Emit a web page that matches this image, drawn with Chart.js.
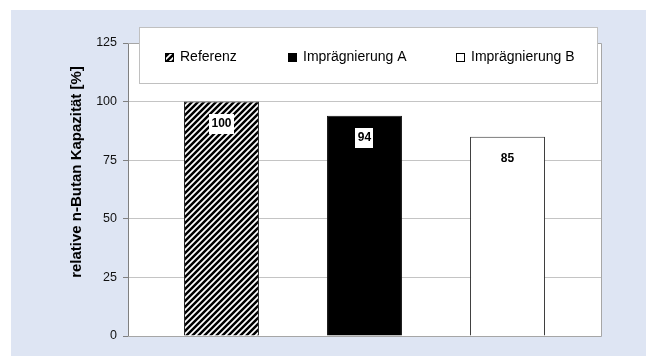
<!DOCTYPE html>
<html>
<head>
<meta charset="utf-8">
<script src="https://cdn.jsdelivr.net/npm/chart.js@4/dist/chart.umd.min.js"></script>
<style>
  html, body { margin: 0; padding: 0; background: #fff; }
  #wrap { width: 646px; height: 356px; position: relative; }
</style>
</head>
<body>
<div id="wrap"><canvas id="chart" width="646" height="356"></canvas></div>
<script>
// chart data
const categories = [''];
const seriesNames = ['Referenz', 'Imprägnierung A', 'Imprägnierung B'];
const seriesValues = [100, 94, 85];
const yTicks = [0, 25, 50, 75, 100, 125];
const yTitle = 'relative n-Butan Kapazität [%]';

const FONT = '"Liberation Sans", Arial, sans-serif';

// diagonal hatch for the reference bar
function makeHatch() {
    const s = 6;
    const c = document.createElement('canvas');
    c.width = s;
    c.height = s;
    const g = c.getContext('2d');
    g.fillStyle = '#fff';
    g.fillRect(0, 0, s, s);
    g.strokeStyle = '#000';
    g.lineWidth = 2.5;
    g.beginPath();
    g.moveTo(-1, s + 1); g.lineTo(s + 1, -1);
    g.moveTo(-1, 1); g.lineTo(1, -1);
    g.moveTo(s - 1, s + 1); g.lineTo(s + 1, s - 1);
    g.stroke();
    return g.createPattern(c, 'repeat');
}

const ctx = document.getElementById('chart').getContext('2d');
const hatch = makeHatch();
const fills = [hatch, '#000', '#fff'];
const borders = ['#222', '#111', '#333'];

const datasets = seriesNames.map(function(name, i) {
    return {
        label: name,
        data: [seriesValues[i]],
        backgroundColor: fills[i],
        borderColor: borders[i],
        borderWidth: 1,
        categoryPercentage: 0.907,
        barPercentage: 0.524
    };
});

// backgrounds behind the plot
const backgroundPlugin = {
    id: 'bg',
    beforeDraw: function(chart) {
        const c = chart.ctx;
        const a = chart.chartArea;
        c.save();
        c.fillStyle = '#fff';
        c.fillRect(0, 0, chart.width, chart.height);
        c.fillStyle = '#dee5f3';
        c.fillRect(11, 10, chart.width - 11, chart.height - 10);
        c.fillStyle = '#fff';
        c.fillRect(a.left, a.top, a.right - a.left, a.bottom - a.top);
        c.restore();
    }
};

// value labels inside the bars
const valueLabelPlugin = {
    id: 'valueLabels',
    afterDatasetsDraw: function(chart) {
        const c = chart.ctx;
        c.save();
        c.font = 'bold 12px ' + FONT;
        c.textAlign = 'center';
        c.textBaseline = 'middle';
        chart.data.datasets.forEach(function(ds, i) {
            const bar = chart.getDatasetMeta(i).data[0];
            const text = String(ds.data[0]);
            const y = bar.y + 22;
            const w = c.measureText(text).width + 5;
            c.fillStyle = '#fff';
            c.fillRect(Math.round(bar.x - w / 2), Math.round(y - 10), Math.round(w), 20);
            c.fillStyle = '#000';
            c.fillText(text, bar.x, y);
        });
        c.restore();
    }
};

// plot border, legend box and axis title
const overlayPlugin = {
    id: 'overlay',
    afterDraw: function(chart) {
        const c = chart.ctx;
        const a = chart.chartArea;
        c.save();
        c.strokeStyle = '#a6a6a6';
        c.lineWidth = 1;
        c.beginPath();
        c.moveTo(a.left, a.top + 0.5);
        c.lineTo(a.right + 0.5, a.top + 0.5);
        c.lineTo(a.right + 0.5, a.bottom + 0.5);
        c.lineTo(a.left, a.bottom + 0.5);
        c.stroke();

        // legend
        const lx = 139, ly = 27, lw = 458, lh = 56;
        c.fillStyle = '#fff';
        c.fillRect(lx, ly, lw, lh);
        c.strokeStyle = '#c0c0c0';
        c.strokeRect(lx + 0.5, ly + 0.5, lw, lh);

        const itemX = [165, 288, 456];
        const cy = 57;
        c.font = '14px ' + FONT;
        c.textBaseline = 'middle';
        c.textAlign = 'left';
        chart.data.datasets.forEach(function(ds, i) {
            const x = itemX[i];
            c.fillStyle = ds.backgroundColor;
            c.fillRect(x, cy - 4, 9, 9);
            c.strokeStyle = '#000';
            c.strokeRect(x + 0.5, cy - 3.5, 8, 8);
            c.fillStyle = '#000';
            c.fillText(ds.label, x + 15, cy);
        });

        // y axis title
        c.translate(77, 172);
        c.rotate(-Math.PI / 2);
        c.font = 'bold 15px ' + FONT;
        c.textAlign = 'center';
        c.fillStyle = '#000';
        c.fillText(yTitle, 0, 0);
        c.restore();
    }
};

new Chart(ctx, {
    type: 'bar',
    data: {
        labels: categories,
        datasets: datasets
    },
    options: {
        responsive: false,
        animation: false,
        layout: {
            padding: { top: 43, right: 45, bottom: 20, left: 0 }
        },
        scales: {
            x: {
                display: false
            },
            y: {
                min: yTicks[0],
                max: yTicks[yTicks.length - 1],
                afterFit: function(scale) {
                    scale.width = 128;
                },
                afterBuildTicks: function(scale) {
                    scale.ticks = yTicks.map(function(v) { return { value: v }; });
                },
                ticks: {
                    padding: 6,
                    color: '#111',
                    font: { family: FONT, size: 12.5 }
                },
                grid: {
                    color: '#c4c4c4',
                    tickColor: '#808080',
                    tickLength: 5
                },
                border: {
                    color: '#808080'
                }
            }
        },
        plugins: {
            legend: { display: false },
            tooltip: { enabled: false }
        }
    },
    plugins: [backgroundPlugin, valueLabelPlugin, overlayPlugin]
});
</script>
</body>
</html>
